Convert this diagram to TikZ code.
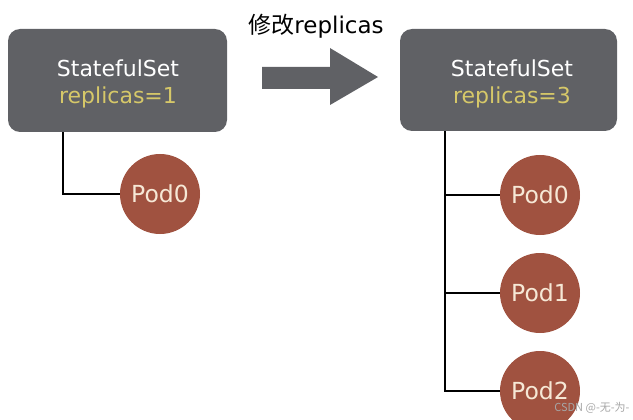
\documentclass[tikz,border=0pt]{standalone}
\usepackage{fontspec}
\setmainfont{DejaVu Sans}
\newfontfamily\cjk{Noto Sans CJK SC}
\definecolor{boxgray}{RGB}{96,97,101}
\definecolor{repyellow}{RGB}{214,200,105}
\definecolor{podred}{RGB}{160,82,64}
\definecolor{podtext}{RGB}{246,232,214}
\tikzset{
  ssbox/.style={fill=boxgray, rounded corners=12pt, inner sep=0pt, text=white, align=center,
     font=\fontsize{22}{29}\selectfont},
  pod/.style={circle, fill=podred, minimum size=80pt, inner sep=0pt, text=podtext,
     font=\fontsize{23.5}{26}\selectfont},
  link/.style={line width=2.5pt, black},
}
\begin{document}
\begin{tikzpicture}[x=1pt,y=-1pt]
\useasboundingbox (0,0) rectangle (633,420);
\begin{scope}
\clip (0,0) rectangle (633,420);
% boxes
\node[ssbox, minimum width=219pt, minimum height=103pt] (L) at (117.5,80.5) {};
\node[ssbox, minimum width=217pt, minimum height=102pt] (R) at (508.5,80) {};
\node[font=\fontsize{22}{29}\selectfont, text=white] (Lt) at (118,68) {StatefulSet};
\node[font=\fontsize{22}{29}\selectfont, text=repyellow] (Lr) at (118,97) {replicas=1};
\node[font=\fontsize{22}{29}\selectfont, text=white] (Rt) at (512,68) {StatefulSet};
\node[font=\fontsize{22}{29}\selectfont, text=repyellow] (Rr) at (512,97) {replicas=3};
% pods
\node[pod] (lp0) at (160,194) {Pod0};
\node[pod] (rp0) at (540,195) {Pod0};
\node[pod] (rp1) at (540,293) {Pod1};
\node[pod] (rp2) at (540,391) {Pod2};
% connectors
\coordinate (lx) at (63,0);
\coordinate (rx) at (445,0);
\draw[link] (lx |- L.south) |- (lp0.west);
\draw[link] (rx |- R.south) |- (rp2.west);
\draw[link] (rx |- rp0) -- (rp0.west);
\draw[link] (rx |- rp1) -- (rp1.west);
% big arrow
\fill[boxgray] (262,67) -- (330,67) -- (330,48) -- (378,77) -- (330,105) -- (330,89) -- (262,89) -- cycle;
\node[font=\fontsize{23}{26}\selectfont, anchor=center] (title) at (316,26) {{\cjk 修改}replicas};
% watermark
\node[font=\cjk\fontsize{11}{13}\selectfont, text=gray!70, anchor=east] (wm) at (633,408) {CSDN @-无-为-};
\end{scope}
\end{tikzpicture}
\end{document}
